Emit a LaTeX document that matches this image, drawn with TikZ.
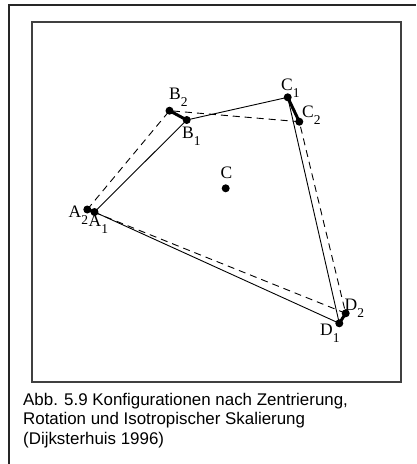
\documentclass[tikz,border=0pt]{standalone}
\usepackage{fontspec}
\setmainfont{Liberation Serif}
\newfontfamily\capfont{Liberation Sans}
\usetikzlibrary{positioning}

% point label with a lowered index
\newcommand{\plab}[2]{#1\raisebox{-7pt}{\fontsize{13.5}{13.5}\selectfont #2}}

\tikzset{
  pnt/.style={circle,fill=black,inner sep=0pt,minimum size=8pt},
  solidedge/.style={draw=black,line width=0.9pt},
  dashedge/.style={draw=black,line width=0.9pt,dash pattern={on 7pt off 5pt}},
  matchline/.style={draw=black,line width=3pt,line cap=round},
  lab/.style={anchor=base west,inner sep=0pt,font=\fontsize{17.5}{17.5}\selectfont},
  frameline/.style={draw=black!85,line width=2pt}
}

\begin{document}
\begin{tikzpicture}[x=1pt,y=1pt,yscale=-1]
	\useasboundingbox (0,0) rectangle (416,464);
	
	%Outer frame (only top and left visible)
	\draw [frameline] (416,4.5) -- (8.5,4.5) -- (8.5,464);
	%Inner frame
	\draw [frameline,draw=black!75] (31.5,22) rectangle (401,382);
	
	%Points of the first configuration
	\node [pnt] (A1) at (94.5,212) {};
	\node [pnt] (B1) at (186.7,120) {};
	\node [pnt] (C1) at (287.7,97.3) {};
	\node [pnt] (D1) at (339.3,323.3) {};
	%Points of the second configuration
	\node [pnt] (A2) at (87.3,209.5) {};
	\node [pnt] (B2) at (169.5,110.7) {};
	\node [pnt] (C2) at (299.3,121.7) {};
	\node [pnt] (D2) at (345.7,313.3) {};
	%Centroid
	\node [pnt] (C) at (225.7,188.3) {};
	
	%Solid polygon
	\draw [solidedge] (A1.center) -- (B1.center) -- (C1.center) -- (D1.center) -- cycle;
	%Dashed polygon
	\draw [dashedge] (A2.center) -- (B2.center) -- (C2.center) -- (D2.center) -- cycle;
	
	%Matching lines
	\draw [matchline] (A2.center) -- (A1.center);
	\draw [matchline] (B2.center) -- (B1.center);
	\draw [matchline] (C1.center) -- (C2.center);
	\draw [matchline] (D1.center) -- (D2.center);
	
	% Text Node
	\node [lab] (labA2) at (68.5,217.3) {\plab{A}{2}};
	\node [lab] (labA1) at (88.5,226.7) {\plab{A}{1}};
	\node [lab] (labB2) at (169,99) {\plab{B}{2}};
	\node [lab] (labB1) at (182,138) {\plab{B}{1}};
	\node [lab] (labC1) at (281,90.5) {\plab{C}{1}};
	\node [lab] (labC2) at (302,117.3) {\plab{C}{2}};
	\node [lab] (labC) at (220.5,178.3) {C};
	\node [lab] (labD2) at (344.5,310) {\plab{D}{2}};
	\node [lab] (labD1) at (320,335) {\plab{D}{1}};
	
	% Text Node
	\node [anchor=base west,inner sep=0pt,align=left,font=\capfont\fontsize{16.9}{19.5}\selectfont] (caption) at (23,444) {Abb. 5.9 Konfigurationen nach Zentrierung,\\Rotation und Isotropischer Skalierung\\(Dijksterhuis 1996)};
	
\end{tikzpicture}
\end{document}
